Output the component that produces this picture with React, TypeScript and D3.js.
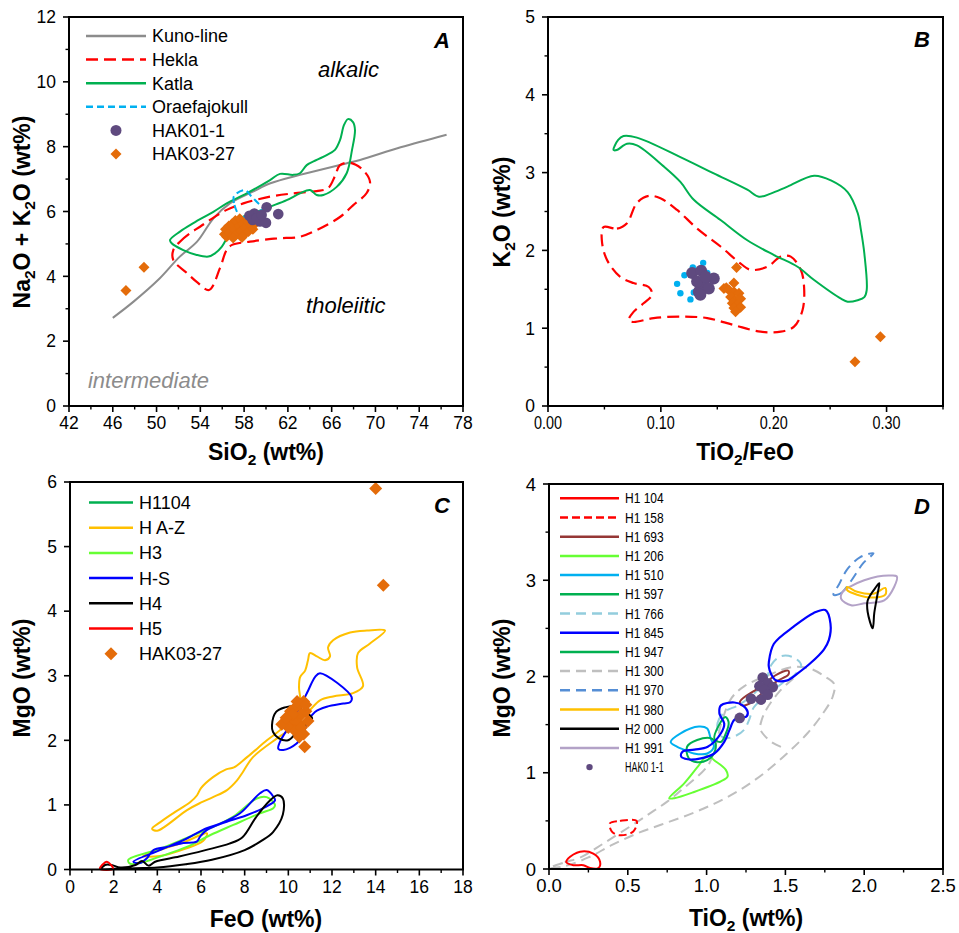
import React from 'react';
import * as d3 from 'd3';

type Pt = [number, number];

const FONT = "'Liberation Sans', Arial, Helvetica, sans-serif";

// ---------------- Panel A : SiO2 vs Na2O+K2O ----------------
const aXTicks = [42, 46, 50, 54, 58, 62, 66, 70, 74, 78];
const aYTicks = [0, 2, 4, 6, 8, 10, 12];
const kunoLine: Pt[] = [[46.0, 2.72], [47.9, 3.22], [50.3, 3.94], [52.1, 4.6], [53.7, 5.07], [55.2, 5.79], [56.7, 6.25], [58.8, 6.61], [60.4, 6.87], [63.1, 7.13], [64.9, 7.28], [67.4, 7.49], [68.6, 7.59], [72.3, 7.98], [76.5, 8.37]];
const heklaA: Pt[] = [[51.53, 4.81], [52.14, 5.07], [53.06, 5.33], [53.97, 5.53], [54.88, 5.74], [56.41, 6.05], [57.93, 6.25], [60.37, 6.46], [62.5, 6.56], [64.63, 6.63], [65.67, 6.72], [66.3, 7.09], [66.76, 7.43], [67.68, 7.5], [68.86, 7.28], [69.5, 6.92], [69.2, 6.57], [67.95, 6.19], [66.76, 5.83], [64.66, 5.43], [63.1, 5.22], [61.0, 5.17], [58.54, 5.07], [56.9, 4.97], [56.4, 4.81], [55.8, 4.26], [54.8, 3.58], [53.7, 3.82], [52.78, 4.1], [51.53, 4.5]];
const katlaA: Pt[] = [[51.23, 5.12], [52.14, 5.38], [53.36, 5.64], [55.19, 5.99], [56.41, 6.25], [58.24, 6.56], [60.37, 6.97], [61.28, 7.16], [62.5, 7.13], [63.1, 7.18], [63.72, 7.43], [64.63, 7.59], [65.54, 7.74], [66.3, 7.9], [66.76, 8.2], [67.13, 8.67], [67.49, 8.85], [67.95, 8.76], [68.13, 8.51], [67.86, 7.9], [67.37, 7.18], [66.46, 6.76], [65.24, 6.51], [64.63, 6.51], [64.02, 6.66], [63.11, 6.56], [61.89, 6.35], [60.37, 6.15], [59.15, 5.99], [57.93, 5.84], [56.89, 5.49], [56.41, 5.17], [55.95, 4.91], [55.34, 4.71], [54.73, 4.61], [53.67, 4.66], [52.44, 4.81], [51.38, 5.02]];
const oraefaA: Pt[] = [[57.62, 5.86], [57.08, 6.26], [57.08, 6.48], [58.08, 6.66], [58.63, 6.48], [59.27, 6.26], [59.73, 6.11], [59.0, 5.92], [58.27, 5.83]];
const hak011A: Pt[] = [[60.06, 6.13], [61.12, 5.92], [58.93, 5.94], [58.48, 5.87], [58.78, 5.74], [59.45, 5.69], [60.0, 5.65], [59.15, 5.79], [59.6, 5.89]];
const hak0327A: Pt[] = [[56.2, 5.3], [56.3, 5.45], [56.4, 5.22], [56.6, 5.55], [56.7, 5.35], [56.9, 5.25], [56.9, 5.62], [57.1, 5.45], [57.2, 5.72], [57.3, 5.3], [57.5, 5.55], [57.6, 5.78], [57.7, 5.4], [57.9, 5.62], [58.0, 5.28], [58.1, 5.5], [58.3, 5.7], [58.4, 5.38], [58.6, 5.58], [58.8, 5.45], [59.0, 5.62], [57.0, 5.18], [57.8, 5.2], [59.45, 5.84], [47.2, 3.56], [48.85, 4.28]];

// ---------------- Panel B : TiO2/FeO vs K2O ----------------
const bXTicks = [0, 0.1, 0.2, 0.3];
const bYTicks = [0, 1, 2, 3, 4, 5];
const katlaB: Pt[] = [[0.0581, 3.29], [0.0622, 3.42], [0.0669, 3.47], [0.0788, 3.45], [0.1173, 3.2], [0.1469, 2.99], [0.1766, 2.78], [0.1869, 2.69], [0.1973, 2.73], [0.2122, 2.82], [0.2358, 2.96], [0.2507, 2.9], [0.2655, 2.75], [0.2744, 2.48], [0.2773, 2.26], [0.2803, 1.96], [0.2824, 1.49], [0.2803, 1.4], [0.2744, 1.36], [0.2655, 1.34], [0.2596, 1.38], [0.2358, 1.62], [0.2211, 1.79], [0.2003, 1.94], [0.1766, 2.13], [0.1529, 2.39], [0.1292, 2.65], [0.1173, 2.88], [0.1025, 3.08], [0.0788, 3.35], [0.07, 3.37], [0.061, 3.29]];
const heklaB: Pt[] = [[0.0492, 2.3], [0.0611, 2.28], [0.07, 2.35], [0.0788, 2.61], [0.0892, 2.7], [0.0996, 2.67], [0.1144, 2.52], [0.1322, 2.28], [0.1529, 2.05], [0.1707, 1.83], [0.1796, 1.75], [0.1944, 1.79], [0.2062, 1.92], [0.2151, 1.92], [0.224, 1.75], [0.2269, 1.53], [0.2255, 1.23], [0.218, 1.02], [0.2062, 0.955], [0.1884, 0.955], [0.1647, 1.04], [0.1411, 1.13], [0.1173, 1.15], [0.0936, 1.13], [0.0758, 1.08], [0.0714, 1.1], [0.0758, 1.21], [0.0847, 1.32], [0.0922, 1.43], [0.0892, 1.53], [0.0758, 1.58], [0.064, 1.66], [0.0522, 1.88], [0.0477, 2.13]];
const oraefaB: Pt[] = [[0.1144, 1.57], [0.1173, 1.45], [0.1209, 1.68], [0.1283, 1.78], [0.1375, 1.84], [0.1262, 1.37], [0.1292, 1.46], [0.1411, 1.71], [0.1351, 1.55]];
const hak011B: Pt[] = [[0.1277, 1.71], [0.1357, 1.74], [0.1469, 1.64], [0.138, 1.58], [0.1336, 1.47], [0.1425, 1.51], [0.1321, 1.6], [0.1396, 1.66], [0.135, 1.43]];
const hak0327B: Pt[] = [[0.1671, 1.78], [0.1647, 1.58], [0.1559, 1.51], [0.158, 1.52], [0.1603, 1.49], [0.1647, 1.47], [0.1692, 1.45], [0.1618, 1.4], [0.1662, 1.36], [0.1707, 1.38], [0.1633, 1.32], [0.1677, 1.3], [0.1647, 1.26], [0.1707, 1.27], [0.1662, 1.21], [0.2945, 0.89], [0.272, 0.57]];

// ---------------- Panel C : FeO vs MgO ----------------
const cXTicks = [0, 2, 4, 6, 8, 10, 12, 14, 16, 18];
const cYTicks = [0, 1, 2, 3, 4, 5, 6];
const hazC: Pt[] = [[3.76, 0.63], [4.12, 0.73], [4.72, 0.87], [5.5, 1.04], [5.82, 1.15], [6.0, 1.26], [6.55, 1.43], [7.15, 1.55], [7.51, 1.58], [8.11, 1.74], [9.02, 2.0], [9.76, 2.2], [10.31, 2.44], [10.54, 2.62], [10.49, 2.81], [10.54, 2.98], [10.77, 3.08], [10.9, 3.24], [10.99, 3.35], [11.31, 3.3], [11.68, 3.24], [11.91, 3.3], [11.82, 3.44], [12.05, 3.55], [12.83, 3.67], [13.6, 3.7], [14.43, 3.7], [13.74, 3.5], [13.19, 3.35], [13.15, 3.13], [13.42, 2.84], [12.96, 2.73], [12.05, 2.68], [11.45, 2.62], [10.99, 2.47], [10.22, 2.2], [9.48, 2.03], [8.38, 1.74], [7.92, 1.51], [7.65, 1.38], [7.19, 1.23], [6.55, 1.12], [5.96, 1.03], [5.36, 0.92], [3.99, 0.6]];
const hazC2: Pt[] = [[3.34, 0.21], [4.35, 0.33], [5.27, 0.43], [5.96, 0.53], [6.28, 0.56], [6.09, 0.44], [5.27, 0.32], [4.12, 0.21]];
const h3C: Pt[] = [[2.67, 0.15], [4.12, 0.32], [5.35, 0.49], [6.56, 0.66], [7.48, 0.82], [8.55, 1.1], [9.01, 1.12], [9.39, 1.0], [9.31, 0.95], [8.7, 0.87], [7.48, 0.69], [6.41, 0.53], [5.35, 0.35], [4.12, 0.2], [3.21, 0.1], [2.75, 0.09]];
const hsC1: Pt[] = [[11.45, 3.04], [12.9, 2.67], [12.83, 2.59], [12.52, 2.57], [11.76, 2.52], [11.22, 2.44], [10.92, 2.31], [10.69, 2.11], [10.38, 1.95], [9.77, 1.85], [9.54, 1.87], [9.62, 1.98], [9.93, 2.16], [10.54, 2.52], [10.92, 2.78], [11.22, 2.98]];
const hsC2: Pt[] = [[2.9, 0.12], [4.12, 0.3], [5.35, 0.48], [6.26, 0.64], [6.87, 0.71], [7.79, 0.87], [8.7, 1.18], [9.01, 1.23], [9.31, 1.13], [9.39, 1.07], [8.85, 0.95], [8.09, 0.84], [7.18, 0.74], [6.26, 0.61], [5.96, 0.51], [5.8, 0.43], [5.19, 0.41], [4.43, 0.35], [3.82, 0.3], [3.51, 0.17], [3.21, 0.1]];
const h4C1: Pt[] = [[9.25, 2.23], [9.44, 2.44], [9.85, 2.51], [10.31, 2.53], [10.77, 2.44], [11.09, 2.34], [10.81, 2.25], [10.35, 2.11], [9.99, 2.0], [9.57, 2.03], [9.3, 2.13]];
const h4C2: Pt[] = [[1.45, 0.01], [1.6, 0.07], [1.9, 0.07], [2.3, 0.03], [3.0, 0.07], [3.3, 0.13], [3.6, 0.06], [3.9, 0.12], [5.0, 0.2], [6.2, 0.3], [7.3, 0.4], [7.9, 0.5], [8.5, 0.8], [9.1, 1.05], [9.5, 1.15], [9.75, 1.1], [9.75, 0.85], [9.3, 0.58], [8.8, 0.45], [8.0, 0.3], [6.5, 0.15], [5.3, 0.08], [4.0, 0.03], [3.0, 0.02], [2.0, 0.01]];
const h5C: Pt[] = [[1.37, 0.01], [1.69, 0.12], [1.97, 0.01]];
const hak0327C: Pt[] = [[14.0, 5.9], [14.35, 4.4], [10.1, 2.45], [10.3, 2.5], [10.5, 2.55], [10.7, 2.6], [10.4, 2.35], [10.6, 2.4], [10.8, 2.45], [10.2, 2.3], [10.0, 2.2], [10.5, 2.25], [10.9, 2.3], [10.3, 2.15], [10.6, 2.2], [9.7, 2.25], [10.4, 2.6], [10.7, 2.1], [10.5, 2.05], [10.75, 1.9], [10.2, 2.4], [10.8, 2.55], [9.9, 2.35]];

// ---------------- Panel D : TiO2 vs MgO ----------------
const dXTicks = [0, 0.5, 1.0, 1.5, 2.0, 2.5];
const dYTicks = [0, 1, 2, 3, 4];
const h1104D: Pt[] = [[0.122, 0.11], [0.197, 0.18], [0.281, 0.16], [0.324, 0.076], [0.313, 0.01], [0.26, 0.01], [0.218, 0.04], [0.155, 0.04], [0.11, 0.07]];
const h1158D: Pt[] = [[0.387, 0.475], [0.45, 0.5], [0.556, 0.5], [0.535, 0.39], [0.45, 0.35], [0.398, 0.39]];
const h1693D: Pt[] = [[1.212, 1.74], [1.339, 1.89], [1.445, 2.02], [1.519, 2.06], [1.519, 2.02], [1.445, 1.95], [1.36, 1.84], [1.276, 1.72], [1.223, 1.7]];
const h1206D: Pt[] = [[0.763, 0.735], [0.858, 0.89], [0.943, 1.06], [1.006, 1.18], [1.048, 1.13], [1.122, 1.03], [1.133, 0.96], [1.09, 0.91], [0.921, 0.8], [0.795, 0.735]];
const h1510D: Pt[] = [[0.772, 1.32], [0.835, 1.41], [0.951, 1.48], [1.004, 1.46], [1.025, 1.36], [1.046, 1.27], [1.004, 1.2], [0.919, 1.2], [0.856, 1.24], [0.814, 1.27]];
const h1597D: Pt[] = [[0.876, 1.27], [0.94, 1.34], [1.025, 1.36], [1.056, 1.31], [1.046, 1.2], [1.004, 1.13], [0.94, 1.11], [0.887, 1.15]];
const h1766D: Pt[] = [[1.08, 1.4], [1.07, 1.52], [1.12, 1.64], [1.2, 1.7], [1.3, 1.82], [1.38, 1.98], [1.41, 2.12], [1.47, 2.21], [1.55, 2.2], [1.6, 2.12], [1.56, 2.02], [1.48, 1.93], [1.38, 1.8], [1.3, 1.68], [1.27, 1.55], [1.24, 1.45], [1.18, 1.38], [1.12, 1.36]];
const h1845D1: Pt[] = [[1.395, 2.15], [1.427, 2.34], [1.554, 2.52], [1.68, 2.66], [1.754, 2.69], [1.786, 2.55], [1.776, 2.38], [1.744, 2.28], [1.66, 2.14], [1.576, 2.03], [1.513, 1.96], [1.44, 1.96], [1.408, 2.03], [1.395, 2.1]];
const h1845D2: Pt[] = [[0.838, 1.17], [0.848, 1.22], [0.922, 1.24], [1.007, 1.27], [1.091, 1.41], [1.112, 1.51], [1.091, 1.58], [1.081, 1.62], [1.091, 1.7], [1.176, 1.73], [1.229, 1.7], [1.261, 1.63], [1.25, 1.58], [1.218, 1.58], [1.176, 1.55], [1.144, 1.44], [1.112, 1.32], [1.049, 1.2], [0.964, 1.15], [0.88, 1.14]];
const h1947D: Pt[] = [[1.05, 1.35], [1.08, 1.5], [1.12, 1.58], [1.14, 1.52], [1.12, 1.4], [1.09, 1.32]];
const h1300D1: Pt[] = [[0.0, 0.01], [0.1, 0.07], [0.2, 0.12], [0.35, 0.27], [0.56, 0.49], [0.67, 0.61], [0.75, 0.7], [0.84, 0.82], [1.01, 1.08], [1.06, 1.3], [1.1, 1.55], [1.16, 1.78], [1.24, 1.9], [1.4, 2.02], [1.55, 2.1], [1.66, 2.08], [1.75, 2.0], [1.81, 1.92], [1.8, 1.79], [1.74, 1.62], [1.64, 1.41], [1.51, 1.2], [1.36, 0.99], [1.21, 0.82], [1.05, 0.68], [0.88, 0.56], [0.71, 0.46], [0.56, 0.37], [0.4, 0.25], [0.25, 0.12], [0.1, 0.03]];
const h1300D2: Pt[] = [[1.55, 1.98], [1.46, 1.84], [1.38, 1.66], [1.35, 1.55], [1.34, 1.46], [1.36, 1.4], [1.42, 1.31], [1.5, 1.25]];
const h1970D: Pt[] = [[1.805, 2.85], [1.848, 2.86], [1.911, 2.98], [1.995, 3.18], [2.059, 3.28], [1.975, 3.24], [1.891, 3.11], [1.838, 2.95]];
const h1980D: Pt[] = [[1.891, 2.93], [1.955, 2.88], [2.06, 2.86], [2.134, 2.92], [2.134, 2.85], [2.06, 2.82], [1.955, 2.85], [1.891, 2.9]];
const h2000D: Pt[] = [[2.096, 2.97], [2.075, 2.93], [2.022, 2.79], [2.022, 2.67], [2.054, 2.5], [2.064, 2.66], [2.085, 2.86]];
const h1991D: Pt[] = [[1.864, 2.88], [1.853, 2.81], [1.917, 2.74], [2.0, 2.76], [2.127, 2.79], [2.19, 2.93], [2.207, 3.04], [2.17, 3.05], [2.085, 3.04], [2.0, 3.0], [1.917, 2.94]];
const hak011D: Pt[] = [[1.356, 1.99], [1.388, 1.93], [1.335, 1.9], [1.42, 1.89], [1.366, 1.86], [1.282, 1.77], [1.345, 1.76], [1.388, 1.81], [1.21, 1.57]];

// legend labels
const aLegend = ['Kuno-line', 'Hekla', 'Katla', 'Oraefajokull', 'HAK01-1', 'HAK03-27'];
const cLegend = ['H1104', 'H A-Z', 'H3', 'H-S', 'H4', 'H5', 'HAK03-27'];
const dLegend = ['H1 104', 'H1 158', 'H1 693', 'H1 206', 'H1 510', 'H1 597', 'H1 766', 'H1 845', 'H1 947', 'H1 300', 'H1 970', 'H1 980', 'H2 000', 'H1 991', 'HAK0 1-1'];

// styles
const PURPLE = '#5f4a7f';
const ORANGE = '#e46c0a';
type Sty = { color: string; dash?: string; w?: number; marker?: 'circle' | 'diamond' | 'dot' };
const aStyles: Sty[] = [
  { color: '#8c8c8c' }, { color: '#ff0000', dash: '12,6' }, { color: '#00b050' },
  { color: '#00b0f0', dash: '7,4' }, { color: PURPLE, marker: 'circle' }, { color: ORANGE, marker: 'diamond' },
];
const cStyles: Sty[] = [
  { color: '#00b050' }, { color: '#ffc000' }, { color: '#66ff33' }, { color: '#0000ff' },
  { color: '#000000' }, { color: '#ff0000' }, { color: ORANGE, marker: 'diamond' },
];
const dStyles: Sty[] = [
  { color: '#ff0000' }, { color: '#ff0000', dash: '8,4' }, { color: '#953735' }, { color: '#66ff33' },
  { color: '#00b0f0' }, { color: '#00b050' }, { color: '#93cddd', dash: '10,6' }, { color: '#0000ff' },
  { color: '#00b050' }, { color: '#bfbfbf', dash: '10,6' }, { color: '#558ed5', dash: '10,6' },
  { color: '#ffc000' }, { color: '#000000' }, { color: '#b3a2c7' }, { color: PURPLE, marker: 'dot' },
];

const diamond = (r: number) => `M0,${-r}L${r},0L0,${r}L${-r},0Z`;

function minors(domain: [number, number], step: number, major: number[]) {
  const out: number[] = [];
  const n = Math.round((domain[1] - domain[0]) / step);
  for (let i = 0; i <= n; i++) {
    const v = domain[0] + i * step;
    if (!major.some((m) => Math.abs(m - v) < 1e-9)) out.push(v);
  }
  return out;
}

type Part = [string, boolean];
const TITLE_FS = 23;
const SUB_FS = 15.5;
function Title({ parts, x, y, rotate }: { parts: Part[]; x: number; y: number; rotate?: boolean }) {
  let shifted = false;
  const spans = parts.map((p, i) => {
    let dy = 0;
    if (p[1] && !shifted) { dy = 5; shifted = true; }
    else if (!p[1] && shifted) { dy = -5; shifted = false; }
    return (
      <tspan key={i} dy={dy} fontSize={p[1] ? SUB_FS : TITLE_FS}>{p[0]}</tspan>
    );
  });
  return (
    <text transform={`translate(${x},${y})${rotate ? ' rotate(-90)' : ''}`} textAnchor="middle" fontWeight="bold" fontSize={TITLE_FS}>
      {spans}
    </text>
  );
}

function Axes({ xs, ys, xTicks, yTicks, xMinor, yMinor, xFmt, yFmt, fs = 17.5, xLen }: any) {
  const [x0, x1] = xs.range();
  const [y0, y1] = ys.range();
  return (
    <g>
      <rect x={x0} y={y1} width={x1 - x0} height={y0 - y1} fill="none" stroke="#000" strokeWidth={2} />
      {xTicks.map((t: number) => (
        <line key={'xt' + t} x1={xs(t)} x2={xs(t)} y1={y0} y2={y0 + 6} stroke="#000" strokeWidth={1.6} />
      ))}
      {xMinor.map((t: number) => (
        <line key={'xm' + t} x1={xs(t)} x2={xs(t)} y1={y0} y2={y0 + 3.5} stroke="#000" strokeWidth={1.4} />
      ))}
      {xTicks.map((t: number) => (
        <text key={'xl' + t} x={xs(t)} y={y0 + 23} textAnchor="middle" fontSize={fs}
          textLength={xLen} lengthAdjust={xLen ? 'spacingAndGlyphs' : undefined}>{xFmt(t)}</text>
      ))}
      {yTicks.map((t: number) => (
        <line key={'yt' + t} x1={x0 - 6} x2={x0} y1={ys(t)} y2={ys(t)} stroke="#000" strokeWidth={1.6} />
      ))}
      {yMinor.map((t: number) => (
        <line key={'ym' + t} x1={x0 - 3.5} x2={x0} y1={ys(t)} y2={ys(t)} stroke="#000" strokeWidth={1.4} />
      ))}
      {yTicks.map((t: number) => (
        <text key={'yl' + t} x={x0 - 13} y={ys(t) + fs * 0.36} textAnchor="end" fontSize={fs}>{yFmt(t)}</text>
      ))}
    </g>
  );
}

function Shape({ pts, xs, ys, sty, closed = true, w = 2 }: any) {
  const gen = d3.line<Pt>().x((d) => xs(d[0])).y((d) => ys(d[1]))
    .curve(closed ? d3.curveCatmullRomClosed.alpha(0.5) : d3.curveCatmullRom.alpha(0.5));
  return <path d={gen(pts) || ''} fill="none" stroke={sty.color} strokeWidth={w} strokeDasharray={sty.dash} strokeLinejoin="round" />;
}

function Points({ pts, xs, ys, sty, r }: any) {
  return (
    <g>
      {pts.map((d: Pt, i: number) =>
        sty.marker === 'diamond' ? (
          <path key={i} d={diamond(r)} transform={`translate(${xs(d[0])},${ys(d[1])})`} fill={sty.color} />
        ) : (
          <circle key={i} cx={xs(d[0])} cy={ys(d[1])} r={r} fill={sty.color} />
        )
      )}
    </g>
  );
}

function Legend({ labels, styles, x1, x2, tx, y0, dy, fs, mr, textLen }: any) {
  return (
    <g>
      {labels.map((lab: string, i: number) => {
        const y = y0 + i * dy;
        const s: Sty = styles[i];
        const mx = (x1 + x2) / 2;
        let mark;
        if (s.marker === 'diamond') mark = <path d={diamond(mr)} transform={`translate(${mx},${y})`} fill={s.color} />;
        else if (s.marker === 'circle') mark = <circle cx={mx} cy={y} r={mr} fill={s.color} />;
        else if (s.marker === 'dot') mark = <circle cx={mx} cy={y} r={3.2} fill={s.color} />;
        else mark = <line x1={x1} x2={x2} y1={y} y2={y} stroke={s.color} strokeWidth={2.5} strokeDasharray={s.dash} />;
        return (
          <g key={lab}>
            {mark}
            <text x={tx} y={y + fs * 0.36} fontSize={fs} textLength={textLen} lengthAdjust={textLen ? 'spacingAndGlyphs' : undefined}>{lab}</text>
          </g>
        );
      })}
    </g>
  );
}

function PanelLabel({ x, y, t }: { x: number; y: number; t: string }) {
  return <text x={x} y={y} textAnchor="end" fontWeight="bold" fontStyle="italic" fontSize={22}>{t}</text>;
}

function PanelA() {
  const xs = d3.scaleLinear().domain([42, 78]).range([69, 463]);
  const ys = d3.scaleLinear().domain([0, 12]).range([406, 17]);
  return (
    <g>
      <Shape pts={kunoLine} xs={xs} ys={ys} sty={aStyles[0]} closed={false} />
      <Shape pts={heklaA} xs={xs} ys={ys} sty={aStyles[1]} w={2.2} />
      <Shape pts={katlaA} xs={xs} ys={ys} sty={aStyles[2]} />
      <Shape pts={oraefaA} xs={xs} ys={ys} sty={aStyles[3]} />
      <Points pts={hak0327A} xs={xs} ys={ys} sty={aStyles[5]} r={5.5} />
      <Points pts={hak011A} xs={xs} ys={ys} sty={aStyles[4]} r={5.3} />
      <Axes xs={xs} ys={ys} xTicks={aXTicks} yTicks={aYTicks} xMinor={minors([42, 78], 2, aXTicks)} yMinor={minors([0, 12], 1, aYTicks)} xFmt={(v: number) => String(v)} yFmt={(v: number) => String(v)} />
      <text x={xs(64.75)} y={ys(10.15)} fontStyle="italic" fontSize={22}>alkalic</text>
      <text x={xs(63.66)} y={ys(2.87)} fontStyle="italic" fontSize={22}>tholeiitic</text>
      <text x={xs(43.73)} y={ys(0.55)} fontStyle="italic" fontSize={22} fill="#8c8c8c">intermediate</text>
      <PanelLabel x={450} y={48} t="A" />
      <Legend labels={aLegend} styles={aStyles} x1={86} x2={146} tx={152} y0={36} dy={23.6} fs={18} mr={5.5} />
      <Title parts={[['SiO', false], ['2', true], [' (wt%)', false]]} x={266} y={460} />
      <Title parts={[['Na', false], ['2', true], ['O + K', false], ['2', true], ['O (wt%)', false]]} x={30} y={212} rotate />
    </g>
  );
}

function PanelB() {
  const xs = d3.scaleLinear().domain([0, 0.35]).range([548, 943]);
  const ys = d3.scaleLinear().domain([0, 5]).range([406, 17]);
  return (
    <g>
      <Shape pts={heklaB} xs={xs} ys={ys} sty={aStyles[1]} w={2.2} />
      <Shape pts={katlaB} xs={xs} ys={ys} sty={aStyles[2]} />
      <Points pts={oraefaB} xs={xs} ys={ys} sty={{ color: '#00b0f0' }} r={3.2} />
      <Points pts={hak011B} xs={xs} ys={ys} sty={aStyles[4]} r={6} />
      <Points pts={hak0327B} xs={xs} ys={ys} sty={aStyles[5]} r={5.5} />
      <Axes xs={xs} ys={ys} xTicks={bXTicks} yTicks={bYTicks} xMinor={minors([0, 0.35], 0.05, bXTicks)} yMinor={minors([0, 5], 0.5, bYTicks)} xFmt={(v: number) => v.toFixed(2)} yFmt={(v: number) => String(v)} xLen={28} />
      <PanelLabel x={930} y={47} t="B" />
      <Title parts={[['TiO', false], ['2', true], ['/FeO', false]]} x={745} y={460} />
      <Title parts={[['K', false], ['2', true], ['O (wt%)', false]]} x={510} y={212} rotate />
    </g>
  );
}

function PanelC() {
  const xs = d3.scaleLinear().domain([0, 18]).range([70, 463]);
  const ys = d3.scaleLinear().domain([0, 6]).range([869.5, 482]);
  return (
    <g>
      <Shape pts={hazC} xs={xs} ys={ys} sty={cStyles[1]} />
      <Shape pts={hazC2} xs={xs} ys={ys} sty={cStyles[1]} />
      <Shape pts={h3C} xs={xs} ys={ys} sty={cStyles[2]} />
      <Shape pts={hsC2} xs={xs} ys={ys} sty={cStyles[3]} />
      <Shape pts={h4C2} xs={xs} ys={ys} sty={cStyles[4]} />
      <Shape pts={h5C} xs={xs} ys={ys} sty={cStyles[5]} />
      <Shape pts={hsC1} xs={xs} ys={ys} sty={cStyles[3]} />
      <Shape pts={h4C1} xs={xs} ys={ys} sty={cStyles[4]} />
      <Points pts={hak0327C} xs={xs} ys={ys} sty={cStyles[6]} r={6.5} />
      <Axes xs={xs} ys={ys} xTicks={cXTicks} yTicks={cYTicks} xMinor={minors([0, 18], 1, cXTicks)} yMinor={[]} xFmt={(v: number) => String(v)} yFmt={(v: number) => String(v)} />
      <PanelLabel x={450} y={513} t="C" />
      <Legend labels={cLegend} styles={cStyles} x1={89} x2={133} tx={139} y0={502.5} dy={25.2} fs={18} mr={6.5} />
      <Title parts={[['FeO (wt%)', false]]} x={266} y={927} />
      <Title parts={[['MgO (wt%)', false]]} x={30} y={678} rotate />
    </g>
  );
}

function PanelD() {
  const xs = d3.scaleLinear().domain([0, 2.5]).range([549, 943]);
  const ys = d3.scaleLinear().domain([0, 4]).range([869, 484]);
  const S = (i: number) => dStyles[i];
  return (
    <g>
      <Shape pts={h1300D1} xs={xs} ys={ys} sty={S(9)} />
      <Shape pts={h1300D2} xs={xs} ys={ys} sty={S(9)} closed={false} />
      <Shape pts={h1104D} xs={xs} ys={ys} sty={S(0)} />
      <Shape pts={h1158D} xs={xs} ys={ys} sty={S(1)} />
      <Shape pts={h1206D} xs={xs} ys={ys} sty={S(3)} />
      <Shape pts={h1766D} xs={xs} ys={ys} sty={S(6)} />
      <Shape pts={h1510D} xs={xs} ys={ys} sty={S(4)} />
      <Shape pts={h1597D} xs={xs} ys={ys} sty={S(5)} />
      <Shape pts={h1947D} xs={xs} ys={ys} sty={S(8)} />
      <Shape pts={h1693D} xs={xs} ys={ys} sty={S(2)} />
      <Shape pts={h1845D1} xs={xs} ys={ys} sty={S(7)} w={2.2} />
      <Shape pts={h1845D2} xs={xs} ys={ys} sty={S(7)} w={2.2} />
      <Shape pts={h1970D} xs={xs} ys={ys} sty={S(10)} />
      <Shape pts={h1991D} xs={xs} ys={ys} sty={S(13)} />
      <Shape pts={h1980D} xs={xs} ys={ys} sty={S(11)} />
      <Shape pts={h2000D} xs={xs} ys={ys} sty={S(12)} />
      <Points pts={hak011D} xs={xs} ys={ys} sty={S(14)} r={5.3} />
      <Axes xs={xs} ys={ys} xTicks={dXTicks} yTicks={dYTicks} xMinor={minors([0, 2.5], 0.25, dXTicks)} yMinor={minors([0, 4], 0.5, dYTicks)} xFmt={(v: number) => v.toFixed(1)} yFmt={(v: number) => String(v)} fs={18.5} />
      <PanelLabel x={930} y={514} t="D" />
      <Legend labels={dLegend} styles={dStyles} x1={560} x2={619} tx={625} y0={498.3} dy={19.2} fs={14} mr={3.2} textLen={38.7} />
      <Title parts={[['TiO', false], ['2', true], [' (wt%)', false]]} x={746} y={926} />
      <Title parts={[['MgO (wt%)', false]]} x={510} y={678} rotate />
    </g>
  );
}

export default function App() {
  return (
    <svg width={959} height={933} viewBox="0 0 959 933" style={{ position: 'absolute', left: 0, top: 0, background: '#fff' }} fontFamily={FONT}>
      <rect x={0} y={0} width={959} height={933} fill="#fff" />
      <PanelA />
      <PanelB />
      <PanelC />
      <PanelD />
    </svg>
  );
}
